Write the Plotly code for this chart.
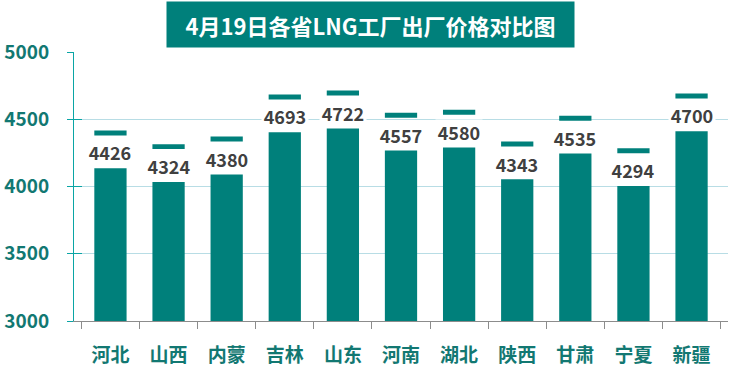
import plotly.graph_objects as go

# ---- data ----
provinces = ["河北", "山西", "内蒙", "吉林", "山东", "河南", "湖北", "陕西", "甘肃", "宁夏", "新疆"]
prices = [4426, 4324, 4380, 4693, 4722, 4557, 4580, 4343, 4535, 4294, 4700]
y_ticks = [3000, 3500, 4000, 4500, 5000]
title_text = "4月19日各省LNG工厂出厂价格对比图"

# ---- style constants ----
TEAL = "#00807b"
AXIS_TEAL = "#0aa5a5"
LABEL_TEAL = "#127872"
GRID = "#b8dde5"
FONT = "Noto Sans CJK SC"
GAP = 290        # visual gap between bar top and price marker
CAP_OFFSET = 46  # marker bottom below price
CAP_H = 37       # marker thickness in value units
LABEL_OFFSET = 172

bar_tops = [p - GAP for p in prices]
cap_bases = [p - CAP_OFFSET for p in prices]

fig = go.Figure()
fig.add_trace(go.Bar(x=provinces, y=bar_tops, marker=dict(color=TEAL, line=dict(width=0)),
                     hoverinfo="skip"))
fig.add_trace(go.Bar(x=provinces, y=[CAP_H] * len(prices), base=cap_bases,
                     marker=dict(color=TEAL, line=dict(width=0)), hoverinfo="skip"))
# invisible trace to host the inner tick axis
fig.add_trace(go.Scatter(x=provinces, y=prices, mode="markers", marker=dict(opacity=0),
                         yaxis="y2", hoverinfo="skip", showlegend=False))

for name, p in zip(provinces, prices):
    fig.add_annotation(x=name, y=p - LABEL_OFFSET, text=f"<b>{p}</b>", showarrow=False,
                       font=dict(family=FONT, size=18, color="#404040"),
                       bgcolor="white", width=46, height=24, borderpad=0)

fig.add_annotation(xref="paper", yref="paper", x=0.453, y=1.102, text=f"<b>{title_text}</b>",
                   showarrow=False, font=dict(family=FONT, size=22, color="white"),
                   bgcolor=TEAL, width=403, height=41, borderpad=2, xanchor="center", yanchor="middle")

fig.update_layout(
    width=737, height=371,
    margin=dict(l=74, r=9, t=52, b=50),
    paper_bgcolor="white", plot_bgcolor="white",
    barmode="overlay", bargap=0.445,
    showlegend=False,
    xaxis=dict(type="category", showline=True, linecolor="#8c8c8c", linewidth=1,
               ticks="outside", tickson="boundaries", ticklen=7, tickcolor="#8c8c8c",
               tickfont=dict(family=FONT, size=19, color=LABEL_TEAL, weight="bold"),
               ticklabelstandoff=17, showgrid=False, automargin=False),
    yaxis=dict(range=[3000, 5000], tickvals=y_ticks, showline=True, linecolor=AXIS_TEAL,
               linewidth=1, ticks="outside", ticklen=6, tickcolor=AXIS_TEAL,
               tickfont=dict(family=FONT, size=19, color=LABEL_TEAL, weight="bold"),
               ticklabelstandoff=14, showgrid=True, gridcolor=GRID, gridwidth=1,
               zeroline=False, automargin=False),
    yaxis2=dict(range=[3000, 5000], tickvals=y_ticks, overlaying="y", side="left",
                ticks="inside", ticklen=8, tickcolor=AXIS_TEAL, showticklabels=False,
                showgrid=False, showline=False, zeroline=False, automargin=False),
)

# remove the default 8px page margin so the figure sits at the window's corner
fig.write_html("out.html", config={"displayModeBar": False},
               post_script="document.body.style.margin='0';")
